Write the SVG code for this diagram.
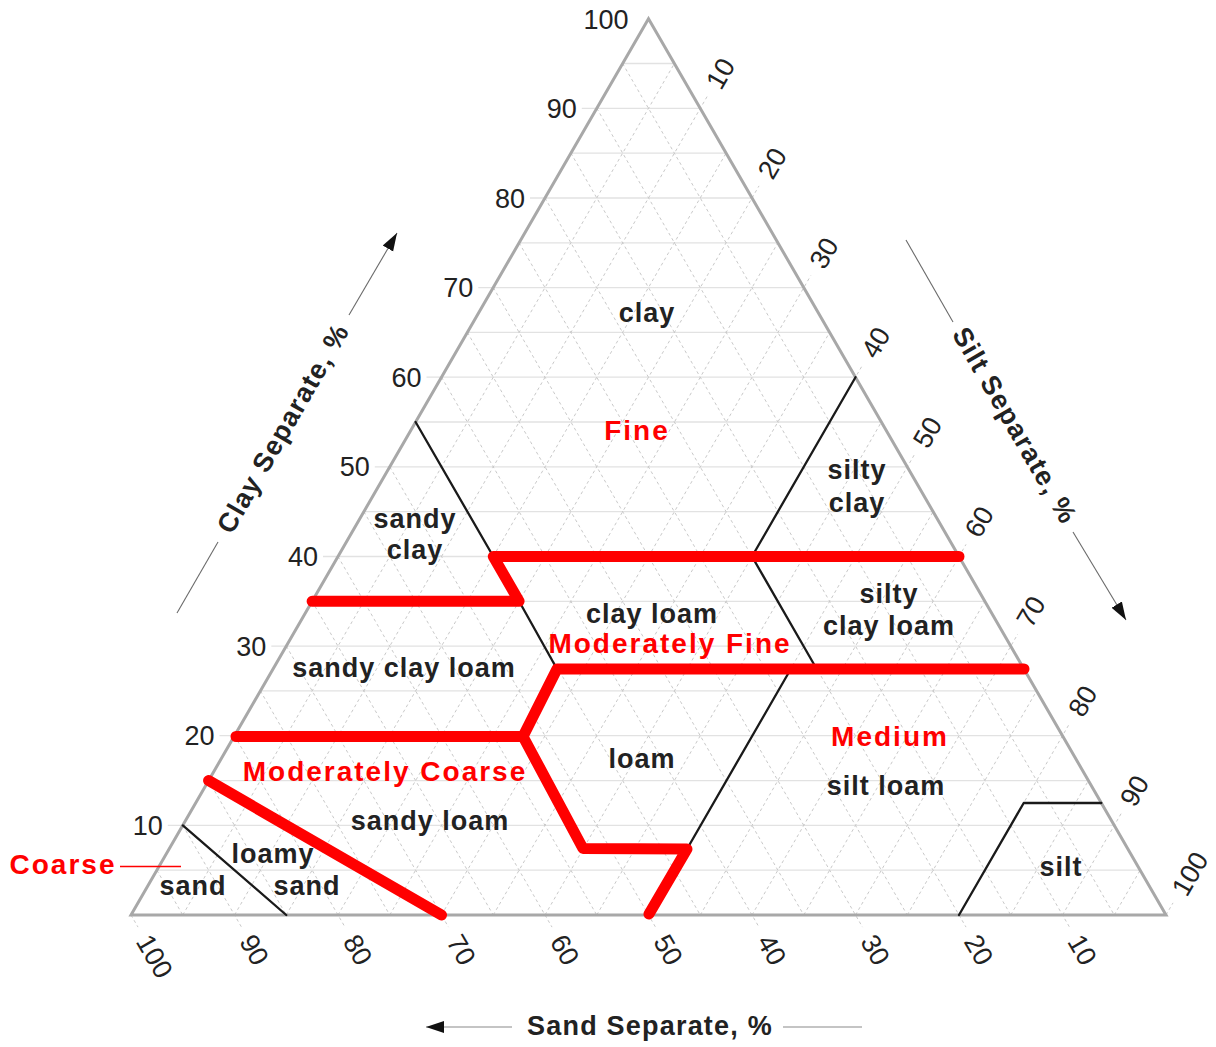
<svg xmlns="http://www.w3.org/2000/svg" width="1216" height="1047" viewBox="0 0 1216 1047">
<defs>
<style>
.gh{fill:none;stroke:#e2e2e2;stroke-width:1.3}
.gd{fill:none;stroke:#c9c9c9;stroke-width:1;stroke-dasharray:3 3}
.tri{fill:none;stroke:#a8a8a8;stroke-width:3}
.bl{fill:none;stroke:#1a1a1a;stroke-width:2.3;stroke-linecap:round;stroke-linejoin:round}
.rd{fill:none;stroke:#ff0000;stroke-width:11;stroke-linecap:round;stroke-linejoin:round}
.ax{fill:none;stroke:#6a6a6a;stroke-width:1.1}
.axh{fill:none;stroke:#b0b0b0;stroke-width:1.5}
.tk{font-family:"Liberation Sans",Arial,sans-serif;font-size:27px;fill:#222}
.tl{text-anchor:end}
.lb{font-family:"Liberation Sans",Arial,sans-serif;font-size:27px;font-weight:bold;fill:#222;letter-spacing:1px;text-anchor:middle}
.rl{font-family:"Liberation Sans",Arial,sans-serif;font-size:28px;font-weight:bold;fill:#ff0000;letter-spacing:2px;text-anchor:middle}
.at{font-family:"Liberation Sans",Arial,sans-serif;font-size:27px;font-weight:bold;fill:#222;letter-spacing:1.2px;text-anchor:middle}
</style>
<marker id="ah" markerWidth="20" markerHeight="14" refX="18" refY="7" orient="auto" markerUnits="userSpaceOnUse"><path d="M0,1 L18,7 L0,13 Z" fill="#111"/></marker>
</defs>

<g id="grid">
<path class="gh" d="M156.9,870.2H1140.1 M167.8,825.4H1114.3 M208.6,780.6H1088.4 M219.5,735.7H1062.5 M260.4,690.9H1036.6 M271.3,646.1H1010.8 M312.1,601.3H984.9 M323,556.5H959 M363.9,511.7H933.1 M374.8,466.9H907.3 M415.6,422H881.4 M426.5,377.2H855.5 M467.4,332.4H829.6 M478.3,287.6H803.8 M519.1,242.8H777.9 M530,198H752 M570.9,153.1H726.1 M581.8,108.3H700.3 M622.6,63.5H674.4"/>
<path class="gd" d="M182.75,915L674.4,63.5 M234.5,915L707.3,96.2 M286.25,915L726.1,153.1 M338,915L759,185.9 M389.75,915L777.9,242.8 M441.5,915L810.8,275.5 M493.25,915L829.6,332.4 M545,915L862.5,365.1 M596.75,915L881.4,422 M648.5,915L914.3,454.8 M700.25,915L933.1,511.7 M752,915L966,544.4 M803.75,915L984.9,601.3 M855.5,915L1017.8,634 M907.25,915L1036.6,690.9 M959,915L1069.5,723.6 M1010.75,915L1088.4,780.6 M1062.5,915L1121.3,813.3 M1114.25,915L1140.1,870.2 M1166,915L1173,902.9"/>
<path class="gd" d="M622.6,63.5L1114.25,915 M596.8,108.3L1069.5,927.1 M570.9,153.1L1010.75,915 M545,198L966,927.1 M519.1,242.8L907.25,915 M493.3,287.6L862.5,927.1 M467.4,332.4L803.75,915 M441.5,377.2L759,927.1 M415.6,422L700.25,915 M389.8,466.9L655.5,927.1 M363.9,511.7L596.75,915 M338,556.5L552,927.1 M312.1,601.3L493.25,915 M286.3,646.1L448.5,927.1 M260.4,690.9L389.75,915 M234.5,735.7L345,927.1 M208.6,780.6L286.25,915 M182.8,825.4L241.5,927.1 M156.9,870.2L182.75,915 M131,915L138,927.1"/>
</g>

<g id="triangle">
<path class="tri" d="M648.5,18.7 L1166,915 L131,915 Z"/>
</g>

<g id="connectors">
<g id="class-boundaries">
<path class="bl" d="M415.6,422 L493.3,556.5"/>
<path class="bl" d="M519.1,601.3 L557,669"/>
<path class="bl" d="M855.5,377.2 L752,556.5 L816.7,669"/>
<path class="bl" d="M790.8,669 L687,849"/>
<path class="bl" d="M959,915 L1023.7,803 L1101.3,803"/>
<path class="bl" d="M182.8,825.4 L286.25,915"/>
</g>
<g id="family-boundaries">
<path class="rd" d="M312.1,601.3 L519.1,601.3 L493.3,556.5 L959,556.5"/>
<path class="rd" d="M236,736.5 L523,736.5 L557,669 L1024,669"/>
<path class="rd" d="M523,736.5 L583,848.5 L687,849 L649,914"/>
<path class="rd" d="M208.6,780.6 L441.5,915"/>
<path d="M120,866.5 H181" fill="none" stroke="#ff0000" stroke-width="1.4"/>
</g>
<g id="axis-arrows">
<path class="ax" d="M177,613 L218,542"/>
<path class="ax" d="M349,315 L397,233" marker-end="url(#ah)"/>
<path class="ax" d="M906,240 L953,322"/>
<path class="ax" d="M1073,532 L1126,620" marker-end="url(#ah)"/>
<path class="axh" d="M512,1027 L426,1027" marker-end="url(#ah)"/>
<path class="axh" d="M783,1027 L862,1027"/>
</g>
</g>

<g id="clay-ticks" class="tk tl">
<text x="162.75" y="834.9">10</text>
<text x="214.5" y="745.2">20</text>
<text x="266.25" y="655.6">30</text>
<text x="318" y="566">40</text>
<text x="369.75" y="476.4">50</text>
<text x="421.5" y="386.7">60</text>
<text x="473.25" y="297.1">70</text>
<text x="525" y="207.5">80</text>
<text x="576.75" y="117.8">90</text>
<text x="628.5" y="29.2">100</text>
</g>

<g id="silt-ticks" class="tk">
<text transform="translate(721,91.3) rotate(-60)">10</text>
<text transform="translate(772.7,181.1) rotate(-60)">20</text>
<text transform="translate(824.5,270.7) rotate(-60)">30</text>
<text transform="translate(876.2,360.3) rotate(-60)">40</text>
<text transform="translate(928,449.9) rotate(-60)">50</text>
<text transform="translate(979.7,539.6) rotate(-60)">60</text>
<text transform="translate(1031.5,629.2) rotate(-60)">70</text>
<text transform="translate(1083.2,718.8) rotate(-60)">80</text>
<text transform="translate(1135,808.4) rotate(-60)">90</text>
<text transform="translate(1186.7,898) rotate(-60)">100</text>
</g>

<g id="sand-ticks" class="tk">
<text transform="translate(135.3,941.4) rotate(60)">100</text>
<text transform="translate(238.8,941.4) rotate(60)">90</text>
<text transform="translate(342.3,941.4) rotate(60)">80</text>
<text transform="translate(445.8,941.4) rotate(60)">70</text>
<text transform="translate(549.3,941.4) rotate(60)">60</text>
<text transform="translate(652.8,941.4) rotate(60)">50</text>
<text transform="translate(756.3,941.4) rotate(60)">40</text>
<text transform="translate(859.8,941.4) rotate(60)">30</text>
<text transform="translate(963.3,941.4) rotate(60)">20</text>
<text transform="translate(1066.8,941.4) rotate(60)">10</text>
</g>

<g id="axis-titles">
<text class="at" transform="translate(291,433) rotate(-60)">Clay Separate, %</text>
<text class="at" transform="translate(1007,430) rotate(60)">Silt Separate, %</text>
<text class="at" x="650" y="1035">Sand Separate, %</text>
</g>

<g id="node-clay"><text class="lb" x="647" y="322">clay</text></g>
<g id="node-fine"><text class="rl" x="637" y="440">Fine</text></g>
<g id="node-silty-clay"><text class="lb" x="857" y="479">silty</text><text class="lb" x="857" y="512">clay</text></g>
<g id="node-sandy-clay"><text class="lb" x="415" y="528">sandy</text><text class="lb" x="415" y="559">clay</text></g>
<g id="node-clay-loam"><text class="lb" x="652" y="623">clay loam</text></g>
<g id="node-silty-clay-loam"><text class="lb" x="889" y="603">silty</text><text class="lb" x="889" y="635">clay loam</text></g>
<g id="node-moderately-fine"><text class="rl" x="670" y="653">Moderately Fine</text></g>
<g id="node-sandy-clay-loam"><text class="lb" x="404" y="677">sandy clay loam</text></g>
<g id="node-loam"><text class="lb" x="642" y="768">loam</text></g>
<g id="node-medium"><text class="rl" x="890" y="746">Medium</text></g>
<g id="node-silt-loam"><text class="lb" x="886" y="795">silt loam</text></g>
<g id="node-moderately-coarse"><text class="rl" x="385" y="781">Moderately Coarse</text></g>
<g id="node-sandy-loam"><text class="lb" x="430" y="830">sandy loam</text></g>
<g id="node-loamy-sand"><text class="lb" x="273" y="863">loamy</text><text class="lb" x="307" y="895">sand</text></g>
<g id="node-sand"><text class="lb" x="193" y="895">sand</text></g>
<g id="node-silt"><text class="lb" x="1061" y="876">silt</text></g>
<g id="node-coarse"><text class="rl" x="63" y="874">Coarse</text></g>
</svg>
